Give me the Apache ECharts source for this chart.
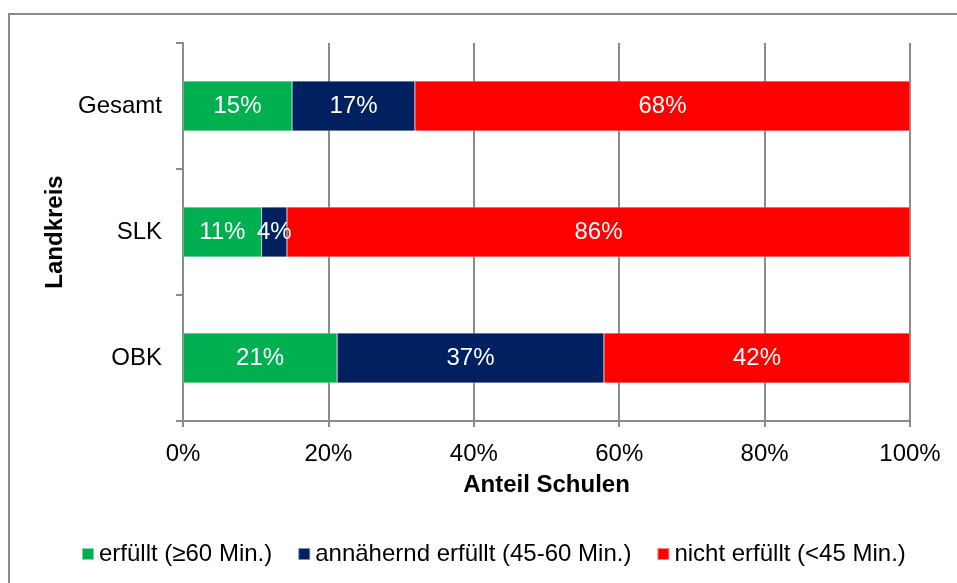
<!DOCTYPE html>
<html>
<head>
<meta charset="utf-8">
<script src="https://cdn.jsdelivr.net/npm/echarts@6/dist/echarts.min.js"></script>
<style>
  html, body { margin: 0; padding: 0; background: #fff; }
  #chart { width: 957px; height: 583px; }
</style>
</head>
<body>
<div id="chart"></div>
<script>
// Share of schools per district by fulfilment of the time target (percent)
const categories = ['Gesamt', 'SLK', 'OBK'];
const erfuellt = [15.0, 10.8, 21.2];
const annaehernd = [16.9, 3.5, 36.7];
const nichtErfuellt = [68.1, 85.7, 42.1];
const seriesNames = ['erfüllt (≥60 Min.)', 'annähernd erfüllt (45-60 Min.)', 'nicht erfüllt (<45 Min.)'];
const xTicks = [0, 20, 40, 60, 80, 100];

const colors = ['#00B050', '#002060', '#FF0000'];
const font = 'Liberation Sans, Arial, sans-serif';
const gridColor = '#8a8a8a';

const chart = echarts.init(document.getElementById('chart'), null, { renderer: 'canvas' });

const mkSeries = (name, data, color) => ({
  name: name,
  type: 'bar',
  stack: 'total',
  barWidth: 50,
  data: data,
  itemStyle: { color: color, borderColor: 'rgba(255,255,255,0.5)', borderWidth: 0.5 },
  label: {
    show: true,
    position: 'inside',
    color: '#fff',
    fontFamily: font,
    fontSize: 24,
    formatter: p => Math.round(p.value) + '%'
  },
  emphasis: { disabled: true }
});

chart.setOption({
  animation: false,
  backgroundColor: '#fff',
  color: colors,
  graphic: [{
    type: 'rect',
    shape: { x: 9, y: 14, width: 1000, height: 1000 },
    style: { fill: 'none', stroke: '#8a8a8a', lineWidth: 2 },
    silent: true
  }],
  grid: { left: 183, right: 47, top: 43, bottom: 162, containLabel: false },
  legend: {
    top: 537,
    left: 76,
    itemWidth: 12,
    itemHeight: 12,
    itemGap: 25,
    icon: 'rect',
    textStyle: { fontFamily: font, fontSize: 24, color: '#000' },
    data: seriesNames
  },
  xAxis: {
    type: 'value',
    min: xTicks[0],
    max: xTicks[xTicks.length - 1],
    interval: 20,
    name: 'Anteil Schulen',
    nameLocation: 'middle',
    nameGap: 52,
    nameTextStyle: { fontFamily: font, fontSize: 24, fontWeight: 'bold', color: '#000' },
    axisLine: { show: true, lineStyle: { color: gridColor, width: 2 } },
    axisTick: { show: true, length: 6, lineStyle: { color: gridColor, width: 2 } },
    axisLabel: { margin: 21, fontFamily: font, fontSize: 24, color: '#000', formatter: '{value}%' },
    splitLine: { show: true, lineStyle: { color: gridColor, width: 2 } }
  },
  yAxis: {
    type: 'category',
    data: categories,
    inverse: true,
    name: 'Landkreis',
    nameLocation: 'middle',
    nameGap: 109,
    nameRotate: 90,
    nameTextStyle: { fontFamily: font, fontSize: 24, fontWeight: 'bold', color: '#000' },
    axisLine: { show: true, lineStyle: { color: gridColor, width: 2 } },
    axisTick: { show: true, length: 7, inside: false, lineStyle: { color: gridColor, width: 2 } },
    axisLabel: { margin: 21, fontFamily: font, fontSize: 24, color: '#000' },
    splitLine: { show: false }
  },
  series: [
    mkSeries(seriesNames[0], erfuellt, colors[0]),
    mkSeries(seriesNames[1], annaehernd, colors[1]),
    mkSeries(seriesNames[2], nichtErfuellt, colors[2])
  ]
});
</script>
</body>
</html>
